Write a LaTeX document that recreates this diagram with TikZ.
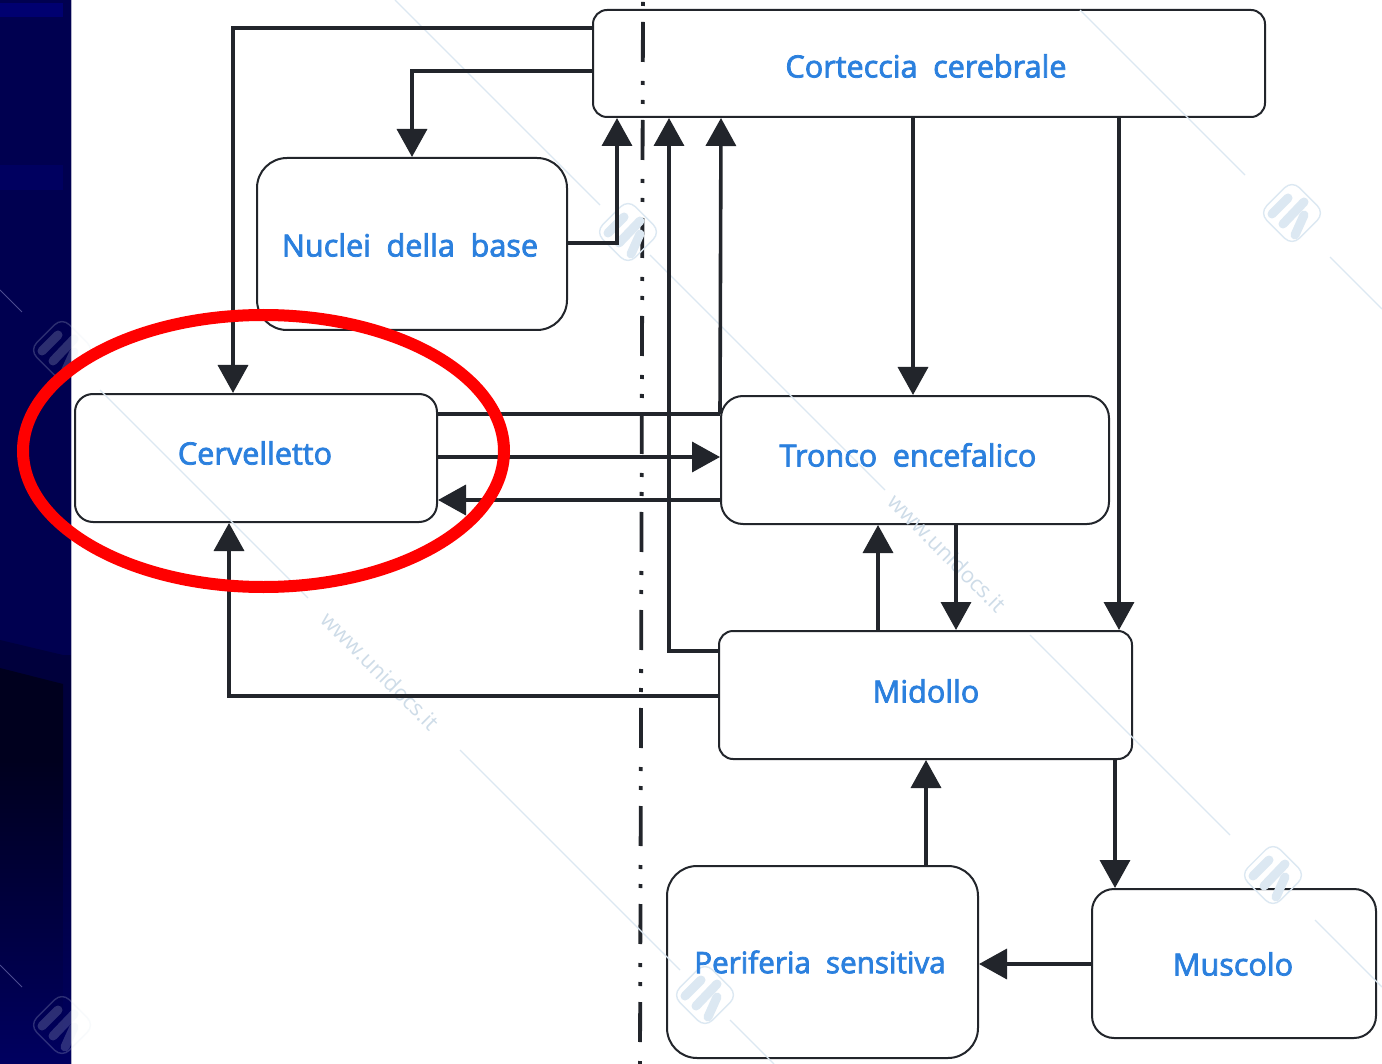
\documentclass[tikz,border=0pt]{standalone}
\usepackage{fontspec}
\setmainfont{Open Sans}
\newfontfamily\labfont[FakeBold=2.5]{Open Sans}
\usetikzlibrary{arrows.meta,calc,shapes.geometric}
\definecolor{navy}{HTML}{000050}
\definecolor{navytop}{HTML}{000070}
\definecolor{navydark}{HTML}{00001E}
\definecolor{navylow}{HTML}{000060}
\definecolor{inkc}{HTML}{22252B}
\definecolor{labelblue}{HTML}{2B80DE}
\definecolor{wm}{HTML}{DCE8F2}
\definecolor{wmt}{HTML}{CEDCE8}
\tikzset{
  x=0.5pt,y=-0.5pt,
  box/.style={draw=inkc,line width=1pt,fill=white,inner sep=0pt},
  lab/.style={text=labelblue,font=\labfont\fontsize{15.3}{17}\selectfont,inner sep=0pt},
  conn/.style={draw=inkc,line width=1.8pt},
  arr/.style={conn,-{Triangle[length=14pt,width=15pt]}},
  wmline/.style={draw=wm,line width=0.6pt},
  wmtext/.style={text=wmt,font=\fontsize{11}{13}\selectfont,rotate=-45,inner sep=0pt},
  wmlogo/.pic={
    \draw[wm,line width=0.7pt,rounded corners=5pt,rotate=45] (-23,-23) rectangle (23,23);
    \draw[wm,line width=4.5pt,line cap=round] (-20,1) -- (-4,-15);
    \draw[wm,line width=4.5pt,line cap=round] (-9,11) -- (12,-11);
    \draw[wm,line width=4.5pt,line cap=round] (3,22) -- (12,2);
  }
}
\begin{document}
\begin{tikzpicture}
\useasboundingbox (0,0) rectangle (1382,1064);
\fill[white] (0,0) rectangle (1382,1064);
% left band
\fill[navy] (0,0) rectangle (71,1064);
\fill[navytop] (0,3) rectangle (63,17);
\fill[navylow] (0,165) rectangle (63,190);
\fill[black!25!navy] (0,640) -- (63,655) -- (71,655) -- (71,800) -- (0,800) -- cycle;
\fill[navydark] (0,668) -- (63,684) -- (63,760) -- (0,760) -- cycle;
\shade[top color=navydark,bottom color=navylow] (0,760) rectangle (63,1064);
\shade[top color=black!25!navy,bottom color=navylow] (63,800) rectangle (71,1064);
\draw[white!70!navy,line width=0.5pt] (71,0) -- (71,1064);
% boxes
\node[box,rounded corners=7pt,minimum width=336pt,minimum height=53.5pt] (cort) at (929,63.5) {};
\node[box,rounded corners=15pt,minimum width=155pt,minimum height=86pt] (nuc) at (412,244) {};
\node[box,rounded corners=9pt,minimum width=181pt,minimum height=64pt] (cer) at (256,458) {};
\node[box,rounded corners=11pt,minimum width=194pt,minimum height=64pt] (tro) at (915,460) {};
\node[box,rounded corners=7pt,minimum width=206.5pt,minimum height=64pt] (mid) at (925.5,695) {};
\node[box,rounded corners=15pt,minimum width=155.5pt,minimum height=96pt] (per) at (822.5,962) {};
\node[box,rounded corners=11pt,minimum width=142pt,minimum height=74.5pt] (mus) at (1234,963.5) {};
% axis
\coordinate (axT) at (643,2);
\coordinate (axB) at (640,1064);
\draw[inkc,line width=1.9pt,dash pattern=on 20pt off 9.5pt on 2pt off 7.5pt on 2pt off 8pt,dash phase=39pt] (axT) -- (axB);
% watermark
\draw[wmline] (1080,10) -- (1245,175);
\draw[wmline] (1330,257) -- (1382,309);
\draw[wmline] (395,0) -- (600,205);
\draw[wmline] (650,255) -- (885,490);
\draw[wmline] (1030,635) -- (1230,835);
\draw[wmline] (1315,920) -- (1382,987);
\draw[wmline] (100,390) -- (308,598);
\draw[wmline] (460,750) -- (680,970);
\draw[wmline] (730,1020) -- (774,1064);
\draw[navylow!70!white,line width=0.5pt] (0,290) -- (22,312);
\draw[navylow!70!white,line width=0.5pt] (0,965) -- (22,987);
\pic at (1292,213) {wmlogo};
\pic at (1273,875) {wmlogo};
\pic at (705,995) {wmlogo};
\pic at (628,232) {wmlogo};
\begin{scope}[opacity=0.2]
\pic at (62,350) {wmlogo};
\pic at (62,1025) {wmlogo};
\end{scope}
\node[wmtext] (wmA) at (380,671) {www.unidocs.it};
\node[wmtext] (wmB) at (947,553) {www.unidocs.it};
% labels
\node[lab] (tcort) at (926,66) {Corteccia\hspace{0.25em} cerebrale};
\node[lab] (tnuc) at (410,245) {Nuclei\hspace{0.25em} della\hspace{0.25em} base};
\node[lab] (tcer) at (255,453) {Cervelletto};
\node[lab] (ttro) at (908,455) {Tronco\hspace{0.25em} encefalico};
\node[lab] (tmid) at (926,691) {Midollo};
\node[lab,font=\labfont\fontsize{14.8}{17}\selectfont] (tper) at (820,962) {Periferia\hspace{0.25em} sensitiva};
\node[lab] (tmus) at (1233,964) {Muscolo};
% connectors
\draw[arr] (cort.west |- 0,28) -| (cer.north -| 233,0);
\draw[arr] (cort.west |- 0,71) -| (nuc.north);
\draw[arr] (nuc.east |- 0,243) -| (cort.south -| 617,0);
\draw[arr] (mid.west |- 0,651) -| (cort.south -| 669,0);
\draw[arr] (tro.west |- 0,414) -- (cort.south -| 721,0);
\draw[arr] (cort.south -| 913,0) -- (tro.north -| 913,0);
\draw[arr] (cort.south -| 1119,0) -- (mid.north -| 1119,0);
\draw[conn] (cer.east |- 0,414) -- (tro.west |- 0,414);
\draw[arr] (cer.east |- 0,457) -- (tro.west |- 0,457);
\draw[arr] (tro.west |- 0,500) -- (cer.east |- 0,500);
\draw[arr] (mid.west |- 0,696) -| (cer.south -| 229,0);
\draw[arr] (tro.south -| 956,0) -- (mid.north -| 956,0);
\draw[arr] (mid.north -| 878,0) -- (tro.south -| 878,0);
\draw[arr] (per.north -| 926,0) -- (mid.south -| 926,0);
\draw[arr] (mid.south -| 1115,0) -- (mus.north -| 1115,0);
\draw[arr] (mus.west |- 0,964) -- (per.east |- 0,964);
% highlight
\node[draw=red,line width=6pt,ellipse,minimum width=240.5pt,minimum height=136pt,inner sep=0pt] (ring) at (263.5,451) {};
\end{tikzpicture}
\end{document}
